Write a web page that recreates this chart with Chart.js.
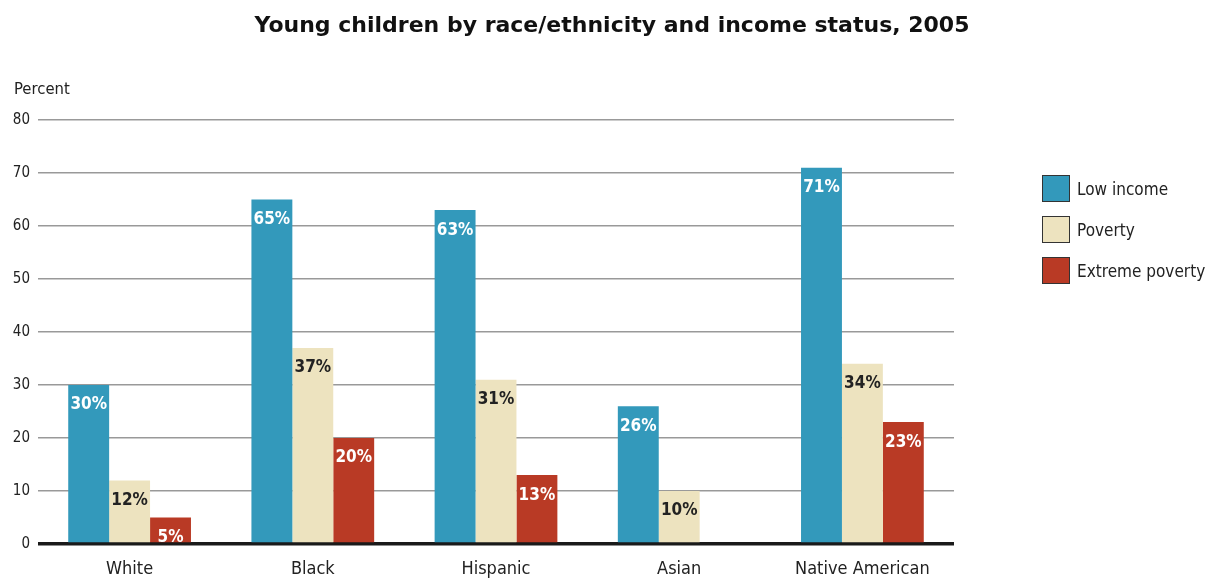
<!DOCTYPE html>
<html>
<head>
<meta charset="utf-8">
<script src="https://cdn.jsdelivr.net/npm/chart.js@4/dist/chart.umd.min.js"></script>
<style>
  html, body { margin: 0; padding: 0; background: #fff; }
  #wrap { position: relative; width: 1209px; height: 581px; overflow: hidden; }
  #chart { position: absolute; left: 0; top: 0; }
  #title {
    position: absolute; left: 0; top: 12px; width: 1224px; text-align: center;
    font: bold 22px "DejaVu Sans", Verdana, sans-serif; color: #111; white-space: nowrap;
  }
  #ylabel {
    position: absolute; left: 14px; top: 79px;
    font: 16.5px "DejaVu Sans Condensed", "Roboto", sans-serif; color: #222;
  }
  #legend { position: absolute; left: 1042px; top: 175px; }
  .item { display: flex; align-items: center; height: 27px; margin-bottom: 14px; white-space: nowrap; }
  .swatch { width: 26px; height: 25px; border: 1px solid #333; margin-right: 7px; flex: none; }
  .item span {
    font: 18.5px "DejaVu Sans Condensed", "Roboto", sans-serif; color: #222;
    display: inline-block; transform: scaleX(0.92); transform-origin: left center;
  }
</style>
</head>
<body>
<div id="wrap">
  <canvas id="chart" width="1209" height="581"></canvas>
  <div id="title">Young children by race/ethnicity and income status, 2005</div>
  <div id="ylabel">Percent</div>
  <div id="legend"></div>
</div>
<script>
const categories   = ['White', 'Black', 'Hispanic', 'Asian', 'Native American'];
const lowIncome    = [30, 65, 63, 26, 71];
const poverty      = [12, 37, 31, 10, 34];
const extremePov   = [5, 20, 13, null, 23];
const seriesNames  = ['Low income', 'Poverty', 'Extreme poverty'];
const seriesColors = ['#3399bb', '#ede3bf', '#b93a25'];
const labelColors  = ['#ffffff', '#222222', '#ffffff'];
const yTicks       = [0, 10, 20, 30, 40, 50, 60, 70, 80];

const NARROW = '"DejaVu Sans Condensed", "Roboto", sans-serif';

// percent labels just inside the top of each bar
const barLabels = {
  id: 'barLabels',
  afterDatasetsDraw(chart) {
    const ctx = chart.ctx;
    ctx.save();
    ctx.font = 'bold 17px ' + NARROW;
    ctx.textAlign = 'center';
    ctx.textBaseline = 'middle';
    chart.data.datasets.forEach((ds, i) => {
      const meta = chart.getDatasetMeta(i);
      meta.data.forEach((bar, j) => {
        const v = ds.data[j];
        if (v == null) return;
        ctx.fillStyle = labelColors[i];
        ctx.fillText(v + '%', bar.x, bar.y + 20);
      });
    });
    ctx.restore();
  }
};

new Chart(document.getElementById('chart'), {
  type: 'bar',
  data: {
    labels: categories,
    datasets: [lowIncome, poverty, extremePov].map((d, i) => ({
      label: seriesNames[i],
      data: d,
      backgroundColor: seriesColors[i],
      borderWidth: 0,
      categoryPercentage: 0.67,
      barPercentage: 1.0
    }))
  },
  options: {
    responsive: false,
    animation: false,
    layout: { padding: { top: 120, right: 255, left: 0, bottom: 0 } },
    plugins: {
      legend: { display: false },
      tooltip: { enabled: false }
    },
    scales: {
      x: {
        grid: { display: false },
        border: { display: false },
        ticks: { color: '#222', font: { family: NARROW, size: 18 }, padding: 7 },
        afterFit: s => { s.height = 37; }
      },
      y: {
        min: 0,
        max: 80,
        afterBuildTicks: s => { s.ticks = yTicks.map(v => ({ value: v })); },
        border: { display: false },
        grid: {
          drawTicks: false,
          color: c => c.tick && c.tick.value === 0 ? '#1a1a1a' : '#999999',
          lineWidth: c => c.tick && c.tick.value === 0 ? 3.5 : 1.5
        },
        ticks: { color: '#222', font: { family: NARROW, size: 15 }, padding: 8 },
        afterFit: s => { s.width = 38; }
      }
    }
  },
  plugins: [barLabels]
});

const legend = document.getElementById('legend');
seriesNames.forEach((name, i) => {
  const row = document.createElement('div');
  row.className = 'item';
  row.innerHTML = '<div class="swatch" style="background:' + seriesColors[i] + '"></div><span>' + name + '</span>';
  legend.appendChild(row);
});
</script>
</body>
</html>
